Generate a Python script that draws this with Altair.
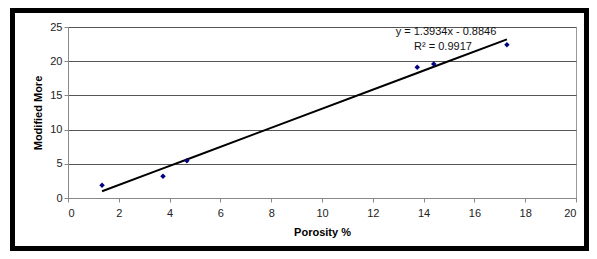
import altair as alt
import pandas as pd

# Data
porosity = [1.34, 3.74, 4.68, 13.75, 14.4, 17.28]
modified_more = [1.86, 3.17, 5.45, 19.1, 19.6, 22.4]
slope = 1.3934
intercept = -0.8846
eq_lines = ["y = 1.3934x - 0.8846", "R² = 0.9917"]
x_ticks = [0, 2, 4, 6, 8, 10, 12, 14, 16, 18, 20]
y_ticks = [0, 5, 10, 15, 20, 25]

df = pd.DataFrame({"x": porosity, "y": modified_more})
FONT = "Liberation Sans"

xs = alt.Scale(domain=[0, 20], nice=False)
ys = alt.Scale(domain=[0, 25], nice=False)

x_axis = alt.Axis(values=x_ticks, grid=False, title="Porosity %", tickSize=4,
                  labelPadding=5, titlePadding=8, labelOverlap=False)
y_axis = alt.Axis(values=y_ticks, grid=True, title="Modified More", tickSize=4,
                  labelPadding=2, titlePadding=6, labelOverlap=False)

base = alt.Chart(df)

trend = base.transform_calculate(
    fit=f"{slope} * datum.x + ({intercept})"
).mark_line(color="black", strokeWidth=2).encode(
    x=alt.X("x:Q", scale=xs, axis=x_axis),
    y=alt.Y("fit:Q", scale=ys, axis=y_axis),
)

points = base.mark_point(shape="diamond", filled=True, color="#000080", size=30, opacity=1).encode(
    x=alt.X("x:Q", scale=xs, axis=x_axis),
    y=alt.Y("y:Q", scale=ys, axis=y_axis),
)

ann1 = alt.Chart(pd.DataFrame({"t": [eq_lines[0]]})).mark_text(
    font=FONT, fontSize=11, color="#111", align="center", baseline="middle"
).encode(x=alt.value(378), y=alt.value(5), text="t:N")

ann2 = alt.Chart(pd.DataFrame({"t": [eq_lines[1]]})).mark_text(
    font=FONT, fontSize=11, color="#111", align="center", baseline="middle"
).encode(x=alt.value(375), y=alt.value(20), text="t:N")

frame = alt.Chart(pd.DataFrame({"a": [0]})).mark_rect(
    fill=None, stroke="black", strokeWidth=5
).encode(
    x=alt.value(-55.5), x2=alt.value(518.5), y=alt.value(-16.5), y2=alt.value(221.5)
)

chart = alt.layer(trend, points, ann1, ann2, frame).properties(
    width=508,
    height=171,
    autosize=alt.AutoSizeParams(type="none"),
    padding={"left": 60, "top": 19, "right": 13, "bottom": 53},
    background="white",
).configure_view(
    stroke="#999999", strokeWidth=1
).configure_axis(
    labelFont=FONT, titleFont=FONT, labelFontSize=11, titleFontSize=11,
    titleFontWeight="bold", labelColor="#222", titleColor="#000",
    domainColor="#888", tickColor="#888", gridColor="#555", gridWidth=1,
)

chart.save("out.html", embed_options={"renderer": "svg", "actions": False})
